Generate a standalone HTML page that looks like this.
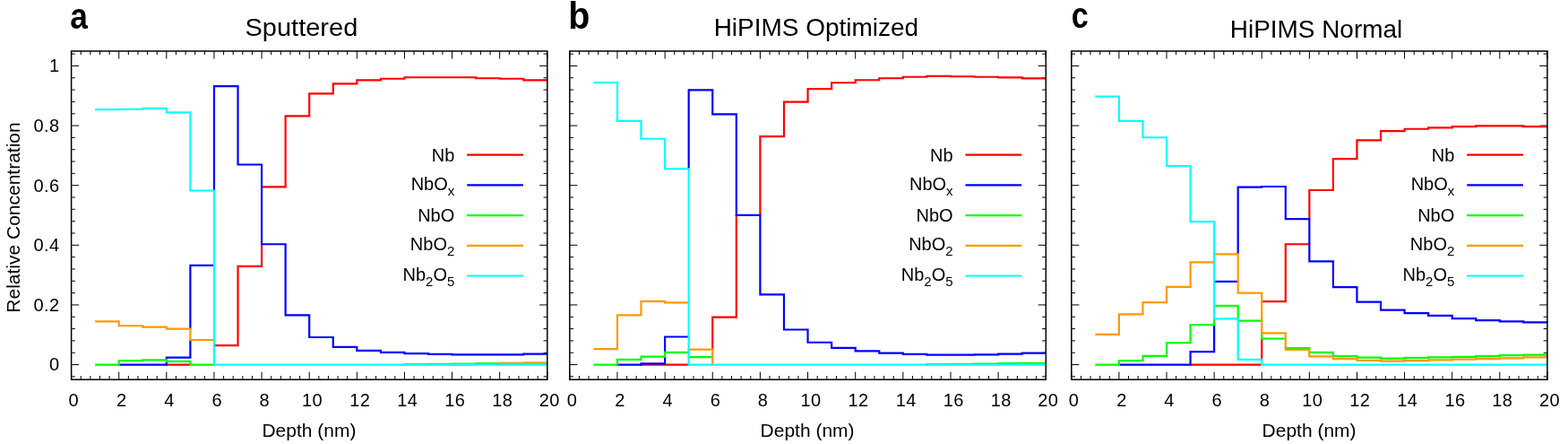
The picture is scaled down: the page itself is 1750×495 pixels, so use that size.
<!DOCTYPE html>
<html lang="en"><head><meta charset="utf-8"><title>Relative Concentration vs Depth</title>
<style>html,body{margin:0;padding:0;background:#fff;}body{width:1750px;height:495px;overflow:hidden;}svg{display:block;}text{font-family:"Liberation Sans",sans-serif;fill:#000;}.t{font-size:20px;}.ttl{font-size:28.5px;}.let{font-size:38px;font-weight:bold;}.sub{font-size:15px;}.tk{letter-spacing:0.4px;}</style></head><body>
<svg width="1750" height="495" viewBox="0 0 1750 495">
<rect width="1750" height="495" fill="#fff"/>
<g>
<path d="M79.6 423.2v-8.6M79.6 57v8.6M90.22 423.2v-4.2M90.22 57v4.2M100.85 423.2v-4.2M100.85 57v4.2M111.47 423.2v-4.2M111.47 57v4.2M122.1 423.2v-4.2M122.1 57v4.2M132.72 423.2v-8.6M132.72 57v8.6M143.34 423.2v-4.2M143.34 57v4.2M153.97 423.2v-4.2M153.97 57v4.2M164.59 423.2v-4.2M164.59 57v4.2M175.22 423.2v-4.2M175.22 57v4.2M185.84 423.2v-8.6M185.84 57v8.6M196.46 423.2v-4.2M196.46 57v4.2M207.09 423.2v-4.2M207.09 57v4.2M217.71 423.2v-4.2M217.71 57v4.2M228.34 423.2v-4.2M228.34 57v4.2M238.96 423.2v-8.6M238.96 57v8.6M249.58 423.2v-4.2M249.58 57v4.2M260.21 423.2v-4.2M260.21 57v4.2M270.83 423.2v-4.2M270.83 57v4.2M281.46 423.2v-4.2M281.46 57v4.2M292.08 423.2v-8.6M292.08 57v8.6M302.7 423.2v-4.2M302.7 57v4.2M313.33 423.2v-4.2M313.33 57v4.2M323.95 423.2v-4.2M323.95 57v4.2M334.58 423.2v-4.2M334.58 57v4.2M345.2 423.2v-8.6M345.2 57v8.6M355.82 423.2v-4.2M355.82 57v4.2M366.45 423.2v-4.2M366.45 57v4.2M377.07 423.2v-4.2M377.07 57v4.2M387.7 423.2v-4.2M387.7 57v4.2M398.32 423.2v-8.6M398.32 57v8.6M408.94 423.2v-4.2M408.94 57v4.2M419.57 423.2v-4.2M419.57 57v4.2M430.19 423.2v-4.2M430.19 57v4.2M440.82 423.2v-4.2M440.82 57v4.2M451.44 423.2v-8.6M451.44 57v8.6M462.06 423.2v-4.2M462.06 57v4.2M472.69 423.2v-4.2M472.69 57v4.2M483.31 423.2v-4.2M483.31 57v4.2M493.94 423.2v-4.2M493.94 57v4.2M504.56 423.2v-8.6M504.56 57v8.6M515.18 423.2v-4.2M515.18 57v4.2M525.81 423.2v-4.2M525.81 57v4.2M536.43 423.2v-4.2M536.43 57v4.2M547.06 423.2v-4.2M547.06 57v4.2M557.68 423.2v-8.6M557.68 57v8.6M568.3 423.2v-4.2M568.3 57v4.2M578.93 423.2v-4.2M578.93 57v4.2M589.55 423.2v-4.2M589.55 57v4.2M600.18 423.2v-4.2M600.18 57v4.2M610.8 423.2v-8.6M610.8 57v8.6M79.6 419.87h4.2M610.8 419.87h-4.2M79.6 406.55h8.6M610.8 406.55h-8.6M79.6 393.23h4.2M610.8 393.23h-4.2M79.6 379.9h4.2M610.8 379.9h-4.2M79.6 366.58h4.2M610.8 366.58h-4.2M79.6 353.25h4.2M610.8 353.25h-4.2M79.6 339.93h8.6M610.8 339.93h-8.6M79.6 326.61h4.2M610.8 326.61h-4.2M79.6 313.28h4.2M610.8 313.28h-4.2M79.6 299.96h4.2M610.8 299.96h-4.2M79.6 286.63h4.2M610.8 286.63h-4.2M79.6 273.31h8.6M610.8 273.31h-8.6M79.6 259.99h4.2M610.8 259.99h-4.2M79.6 246.66h4.2M610.8 246.66h-4.2M79.6 233.34h4.2M610.8 233.34h-4.2M79.6 220.01h4.2M610.8 220.01h-4.2M79.6 206.69h8.6M610.8 206.69h-8.6M79.6 193.37h4.2M610.8 193.37h-4.2M79.6 180.04h4.2M610.8 180.04h-4.2M79.6 166.72h4.2M610.8 166.72h-4.2M79.6 153.39h4.2M610.8 153.39h-4.2M79.6 140.07h8.6M610.8 140.07h-8.6M79.6 126.75h4.2M610.8 126.75h-4.2M79.6 113.42h4.2M610.8 113.42h-4.2M79.6 100.1h4.2M610.8 100.1h-4.2M79.6 86.77h4.2M610.8 86.77h-4.2M79.6 73.45h8.6M610.8 73.45h-8.6M79.6 60.13h4.2M610.8 60.13h-4.2" stroke="#000" stroke-width="1" fill="none"/>
<clipPath id="clip0"><rect x="78.85" y="56.25" width="532.35" height="367.7"/></clipPath>
<g clip-path="url(#clip0)">
<path d="M185.84 406.55H212.4M238.96 385.03H265.52M265.52 296.83V385.03M265.52 296.83H292.08M292.08 273.34V296.83M292.08 208.36H318.64M318.64 129.41V208.36M318.64 129.41H345.2M345.2 104.43V129.41M345.2 104.43H371.76M371.76 93.44V104.43M371.76 93.44H398.32M398.32 89.44V93.44M398.32 89.44H424.88M424.88 87.77V89.44M424.88 87.77H451.44M451.44 86.24V87.77M451.44 86.24H478M478 86.24H504.56M504.56 86.24H531.12M531.12 86.24V87.24M531.12 87.24H557.68M557.68 87.24V87.77M557.68 87.77H584.24M584.24 87.77V89.44M584.24 89.44H610.8" stroke="#ff0000" stroke-width="2.2" fill="none" stroke-linecap="square"/>
<path d="M132.72 406.55H159.28M159.28 406.55H185.84M185.84 398.56V400.22M185.84 403.99V406.55M185.84 398.56H212.4M212.4 295.83V365.61M212.4 380.1V398.56M212.4 295.83H238.96M238.96 96.1V211.42M238.96 96.1H265.52M265.52 96.1V183.51M265.52 183.51H292.08M292.08 183.51V272.24M292.08 272.24H318.64M318.64 272.24V351.42M318.64 351.42H345.2M345.2 351.42V376M345.2 376H371.76M371.76 376V386.8M371.76 386.8H398.32M398.32 386.8V390.79M398.32 390.79H424.88M424.88 390.79V392.79M424.88 392.79H451.44M451.44 392.79V394.06M451.44 394.06H478M478 394.06V394.89M478 394.89H504.56M504.56 394.89V395.32M504.56 395.32H531.12M531.12 395.32H557.68M557.68 395.32H584.24M584.24 394.56V395.32M584.24 394.56H610.8" stroke="#0000ff" stroke-width="2.2" fill="none" stroke-linecap="square"/>
<path d="M107.26 406.55H132.72M132.72 402.09V406.55M132.72 402.09H159.28M159.28 401.32V402.09M159.28 401.32H185.84M185.84 401.32V402.89M185.84 402.89H212.4M212.4 402.89V406.55M212.4 406.55H238.96M451.44 406.22V406.55M451.44 406.22H478M478 405.88V406.22M478 405.88H504.56M504.56 405.55V405.88M504.56 405.55H531.12M531.12 405.22V405.55M531.12 405.22H557.68M557.68 404.88V405.22M557.68 404.88H584.24M584.24 404.55V404.88M584.24 404.55H610.8" stroke="#00ff00" stroke-width="2.2" fill="none" stroke-linecap="square"/>
<path d="M107.26 358.45H132.72M132.72 358.45V363.25M132.72 363.25H159.28M159.28 363.25V364.71M159.28 364.71H185.84M185.84 364.71V366.71M185.84 366.71H212.4M212.4 366.71V379M212.4 379H238.96M504.56 406.22V406.55M504.56 406.22H531.12M531.12 405.88V406.22M531.12 405.88H557.68M557.68 405.22V405.88M557.68 405.22H584.24M584.24 404.88V405.22M584.24 404.88H610.8" stroke="#ff9900" stroke-width="2.2" fill="none" stroke-linecap="square"/>
<path d="M107.26 122.08H132.72M132.72 121.75V122.08M132.72 121.75H159.28M159.28 120.75V121.75M159.28 120.75H185.84M185.84 120.75V125.41M185.84 125.41H212.4M212.4 125.41V212.52M212.4 212.52H238.96M238.96 212.52V406.55M238.96 406.55H265.52M265.52 406.55H292.08M292.08 406.55H318.64M318.64 406.55H345.2M345.2 406.55H371.76M371.76 406.55H398.32M398.32 406.55H424.88M424.88 406.55H451.44M451.44 406.55H478M478 406.55H504.56M504.56 406.55H531.12M531.12 406.55H557.68M557.68 406.55H584.24M584.24 406.55H610.8" stroke="#00ffff" stroke-width="2.2" fill="none" stroke-linecap="square"/>
</g>
<rect x="79.6" y="57" width="531.2" height="366.2" fill="none" stroke="#000" stroke-width="1.5"/>
<path d="M521.2 172.7H583.9" stroke="#ff0000" stroke-width="2.2"/>
<text class="t" transform="translate(507.3 180) scale(1.0 1)" text-anchor="end">Nb</text>
<path d="M521.2 206.4H583.9" stroke="#0000ff" stroke-width="2.2"/>
<text class="t" transform="translate(507.3 211.7) scale(1.0 1)" text-anchor="end">NbO<tspan class="sub" dy="6">x</tspan></text>
<path d="M521.2 240.1H583.9" stroke="#00ff00" stroke-width="2.2"/>
<text class="t" transform="translate(507.3 247.4) scale(1.0 1)" text-anchor="end">NbO</text>
<path d="M521.2 273.8H583.9" stroke="#ff9900" stroke-width="2.2"/>
<text class="t" transform="translate(507.3 279.1) scale(1.0 1)" text-anchor="end">NbO<tspan class="sub" dy="6">2</tspan></text>
<path d="M521.2 307.5H583.9" stroke="#00ffff" stroke-width="2.2"/>
<text class="t" transform="translate(507.3 312.8) scale(1.0 1)" text-anchor="end">Nb<tspan class="sub" dy="6">2</tspan><tspan dy="-6">O</tspan><tspan class="sub" dy="6">5</tspan></text>
<text class="t tk" x="82.3" y="452.8" text-anchor="middle">0</text>
<text class="t tk" x="135.72" y="452.8" text-anchor="middle">2</text>
<text class="t tk" x="188.94" y="452.8" text-anchor="middle">4</text>
<text class="t tk" x="242.16" y="452.8" text-anchor="middle">6</text>
<text class="t tk" x="295.28" y="452.8" text-anchor="middle">8</text>
<text class="t tk" x="348.6" y="452.8" text-anchor="middle">10</text>
<text class="t tk" x="401.72" y="452.8" text-anchor="middle">12</text>
<text class="t tk" x="454.74" y="452.8" text-anchor="middle">14</text>
<text class="t tk" x="507.86" y="452.8" text-anchor="middle">16</text>
<text class="t tk" x="560.68" y="452.8" text-anchor="middle">18</text>
<text class="t tk" x="613.3" y="452.8" text-anchor="middle">20</text>
<text class="t" transform="translate(344.9 486.6) scale(1.05 1)" text-anchor="middle">Depth (nm)</text>
<text class="ttl" transform="translate(336.4 39.5) scale(1.018 1)" text-anchor="middle">Sputtered</text>
<text class="let" style="font-size:41.3px" transform="translate(78.2 32.4) scale(0.855 1)">a</text>
</g>
<g>
<path d="M635.8 423.2v-8.6M635.8 57v8.6M646.43 423.2v-4.2M646.43 57v4.2M657.06 423.2v-4.2M657.06 57v4.2M667.69 423.2v-4.2M667.69 57v4.2M678.32 423.2v-4.2M678.32 57v4.2M688.95 423.2v-8.6M688.95 57v8.6M699.58 423.2v-4.2M699.58 57v4.2M710.21 423.2v-4.2M710.21 57v4.2M720.84 423.2v-4.2M720.84 57v4.2M731.47 423.2v-4.2M731.47 57v4.2M742.1 423.2v-8.6M742.1 57v8.6M752.73 423.2v-4.2M752.73 57v4.2M763.36 423.2v-4.2M763.36 57v4.2M773.99 423.2v-4.2M773.99 57v4.2M784.62 423.2v-4.2M784.62 57v4.2M795.25 423.2v-8.6M795.25 57v8.6M805.88 423.2v-4.2M805.88 57v4.2M816.51 423.2v-4.2M816.51 57v4.2M827.14 423.2v-4.2M827.14 57v4.2M837.77 423.2v-4.2M837.77 57v4.2M848.4 423.2v-8.6M848.4 57v8.6M859.03 423.2v-4.2M859.03 57v4.2M869.66 423.2v-4.2M869.66 57v4.2M880.29 423.2v-4.2M880.29 57v4.2M890.92 423.2v-4.2M890.92 57v4.2M901.55 423.2v-8.6M901.55 57v8.6M912.18 423.2v-4.2M912.18 57v4.2M922.81 423.2v-4.2M922.81 57v4.2M933.44 423.2v-4.2M933.44 57v4.2M944.07 423.2v-4.2M944.07 57v4.2M954.7 423.2v-8.6M954.7 57v8.6M965.33 423.2v-4.2M965.33 57v4.2M975.96 423.2v-4.2M975.96 57v4.2M986.59 423.2v-4.2M986.59 57v4.2M997.22 423.2v-4.2M997.22 57v4.2M1007.85 423.2v-8.6M1007.85 57v8.6M1018.48 423.2v-4.2M1018.48 57v4.2M1029.11 423.2v-4.2M1029.11 57v4.2M1039.74 423.2v-4.2M1039.74 57v4.2M1050.37 423.2v-4.2M1050.37 57v4.2M1061 423.2v-8.6M1061 57v8.6M1071.63 423.2v-4.2M1071.63 57v4.2M1082.26 423.2v-4.2M1082.26 57v4.2M1092.89 423.2v-4.2M1092.89 57v4.2M1103.52 423.2v-4.2M1103.52 57v4.2M1114.15 423.2v-8.6M1114.15 57v8.6M1124.78 423.2v-4.2M1124.78 57v4.2M1135.41 423.2v-4.2M1135.41 57v4.2M1146.04 423.2v-4.2M1146.04 57v4.2M1156.67 423.2v-4.2M1156.67 57v4.2M1167.3 423.2v-8.6M1167.3 57v8.6M635.8 419.87h4.2M1167.3 419.87h-4.2M635.8 406.55h8.6M1167.3 406.55h-8.6M635.8 393.23h4.2M1167.3 393.23h-4.2M635.8 379.9h4.2M1167.3 379.9h-4.2M635.8 366.58h4.2M1167.3 366.58h-4.2M635.8 353.25h4.2M1167.3 353.25h-4.2M635.8 339.93h8.6M1167.3 339.93h-8.6M635.8 326.61h4.2M1167.3 326.61h-4.2M635.8 313.28h4.2M1167.3 313.28h-4.2M635.8 299.96h4.2M1167.3 299.96h-4.2M635.8 286.63h4.2M1167.3 286.63h-4.2M635.8 273.31h8.6M1167.3 273.31h-8.6M635.8 259.99h4.2M1167.3 259.99h-4.2M635.8 246.66h4.2M1167.3 246.66h-4.2M635.8 233.34h4.2M1167.3 233.34h-4.2M635.8 220.01h4.2M1167.3 220.01h-4.2M635.8 206.69h8.6M1167.3 206.69h-8.6M635.8 193.37h4.2M1167.3 193.37h-4.2M635.8 180.04h4.2M1167.3 180.04h-4.2M635.8 166.72h4.2M1167.3 166.72h-4.2M635.8 153.39h4.2M1167.3 153.39h-4.2M635.8 140.07h8.6M1167.3 140.07h-8.6M635.8 126.75h4.2M1167.3 126.75h-4.2M635.8 113.42h4.2M1167.3 113.42h-4.2M635.8 100.1h4.2M1167.3 100.1h-4.2M635.8 86.77h4.2M1167.3 86.77h-4.2M635.8 73.45h8.6M1167.3 73.45h-8.6M635.8 60.13h4.2M1167.3 60.13h-4.2" stroke="#000" stroke-width="1" fill="none"/>
<clipPath id="clip1"><rect x="635.05" y="56.25" width="532.65" height="367.7"/></clipPath>
<g clip-path="url(#clip1)">
<path d="M715.52 406.55H742.1M742.1 406.55H768.67M795.25 353.69V388.46M795.25 353.69H821.82M821.82 240V353.69M848.4 152.19V238.8M848.4 152.19H874.97M874.97 113.59V152.19M874.97 113.59H901.55M901.55 99.1V113.59M901.55 99.1H928.12M928.12 92.27V99.1M928.12 92.27H954.7M954.7 89.24V92.27M954.7 89.24H981.27M981.27 87.24V89.24M981.27 87.24H1007.85M1007.85 85.77V87.24M1007.85 85.77H1034.42M1034.42 84.78V85.77M1034.42 84.78H1061M1061 84.78V85.24M1061 85.24H1087.57M1087.57 85.24V85.77M1087.57 85.77H1114.15M1114.15 85.77V86.44M1114.15 86.44H1140.72M1140.72 86.44V87.44M1140.72 87.44H1167.3M1167.3 87.44V88.44" stroke="#ff0000" stroke-width="2.2" fill="none" stroke-linecap="square"/>
<path d="M688.95 406.55H715.52M715.52 405.35V406.55M715.52 405.35H742.1M742.1 375.51V391.69M742.1 398.66V405.35M742.1 375.51H768.67M768.67 100.3V187.14M768.67 100.3H795.25M795.25 100.3V127.41M795.25 127.41H821.82M821.82 127.41V239.9M821.82 239.9H848.4M848.4 239.9V328.34M848.4 328.34H874.97M874.97 328.34V367.48M874.97 367.48H901.55M901.55 367.48V381.77M901.55 381.77H928.12M928.12 381.77V387.8M928.12 387.8H954.7M954.7 387.8V391.29M954.7 391.29H981.27M981.27 391.29V393.56M981.27 393.56H1007.85M1007.85 393.56V394.89M1007.85 394.89H1034.42M1034.42 394.89V395.56M1034.42 395.56H1061M1061 395.56H1087.57M1087.57 395.32V395.56M1087.57 395.32H1114.15M1114.15 394.56V395.32M1114.15 394.56H1140.72M1140.72 393.56V394.56M1140.72 393.56H1167.3" stroke="#0000ff" stroke-width="2.2" fill="none" stroke-linecap="square"/>
<path d="M663.48 406.55H688.95M688.95 400.82V406.55M688.95 400.82H715.52M715.52 397.56V400.82M715.52 397.56H742.1M742.1 392.79V397.56M742.1 392.79H768.67M768.67 398.06H795.25M1034.42 406.22V406.55M1034.42 406.22H1061M1061 405.88V406.22M1061 405.88H1087.57M1087.57 405.55V405.88M1087.57 405.55H1114.15M1114.15 405.22V405.55M1114.15 405.22H1140.72M1140.72 404.88V405.22M1140.72 404.88H1167.3" stroke="#00ff00" stroke-width="2.2" fill="none" stroke-linecap="square"/>
<path d="M663.48 389.03H688.95M688.95 351.42V389.03M688.95 351.42H715.52M715.52 335.87V351.42M715.52 335.87H742.1M742.1 335.87V337.37M742.1 337.37H768.67M768.67 389.56H795.25M795.25 389.56V406.55" stroke="#ff9900" stroke-width="2.2" fill="none" stroke-linecap="square"/>
<path d="M663.48 92H688.95M688.95 92V134.91M688.95 134.91H715.52M715.52 134.91V154.73M715.52 154.73H742.1M742.1 154.73V188.24M742.1 188.24H768.67M768.67 188.24V406.55M768.67 406.55H795.25M795.25 406.55H821.82M821.82 406.55H848.4M848.4 406.55H874.97M874.97 406.55H901.55M901.55 406.55H928.12M928.12 406.55H954.7M954.7 406.55H981.27M981.27 406.55H1007.85M1007.85 406.55H1034.42M1034.42 406.55H1061M1061 406.55H1087.57M1087.57 406.55H1114.15M1114.15 406.55H1140.72M1140.72 406.55H1167.3" stroke="#00ffff" stroke-width="2.2" fill="none" stroke-linecap="square"/>
</g>
<rect x="635.8" y="57" width="531.5" height="366.2" fill="none" stroke="#000" stroke-width="1.5"/>
<path d="M1077.5 172.7H1140.2" stroke="#ff0000" stroke-width="2.2"/>
<text class="t" transform="translate(1063.6 180) scale(1.0 1)" text-anchor="end">Nb</text>
<path d="M1077.5 206.4H1140.2" stroke="#0000ff" stroke-width="2.2"/>
<text class="t" transform="translate(1063.6 211.7) scale(1.0 1)" text-anchor="end">NbO<tspan class="sub" dy="6">x</tspan></text>
<path d="M1077.5 240.1H1140.2" stroke="#00ff00" stroke-width="2.2"/>
<text class="t" transform="translate(1063.6 247.4) scale(1.0 1)" text-anchor="end">NbO</text>
<path d="M1077.5 273.8H1140.2" stroke="#ff9900" stroke-width="2.2"/>
<text class="t" transform="translate(1063.6 279.1) scale(1.0 1)" text-anchor="end">NbO<tspan class="sub" dy="6">2</tspan></text>
<path d="M1077.5 307.5H1140.2" stroke="#00ffff" stroke-width="2.2"/>
<text class="t" transform="translate(1063.6 312.8) scale(1.0 1)" text-anchor="end">Nb<tspan class="sub" dy="6">2</tspan><tspan dy="-6">O</tspan><tspan class="sub" dy="6">5</tspan></text>
<text class="t tk" x="638.5" y="452.8" text-anchor="middle">0</text>
<text class="t tk" x="691.95" y="452.8" text-anchor="middle">2</text>
<text class="t tk" x="745.2" y="452.8" text-anchor="middle">4</text>
<text class="t tk" x="798.45" y="452.8" text-anchor="middle">6</text>
<text class="t tk" x="851.6" y="452.8" text-anchor="middle">8</text>
<text class="t tk" x="904.95" y="452.8" text-anchor="middle">10</text>
<text class="t tk" x="958.1" y="452.8" text-anchor="middle">12</text>
<text class="t tk" x="1011.15" y="452.8" text-anchor="middle">14</text>
<text class="t tk" x="1064.3" y="452.8" text-anchor="middle">16</text>
<text class="t tk" x="1117.15" y="452.8" text-anchor="middle">18</text>
<text class="t tk" x="1169.8" y="452.8" text-anchor="middle">20</text>
<text class="t" transform="translate(901.1 486.6) scale(1.05 1)" text-anchor="middle">Depth (nm)</text>
<text class="ttl" transform="translate(910.9 39.5) scale(0.982 1)" text-anchor="middle">HiPIMS Optimized</text>
<text class="let" style="font-size:42px" transform="translate(634.3 31.5) scale(0.94 1)">b</text>
</g>
<g>
<path d="M1195.8 423.2v-8.6M1195.8 57v8.6M1206.42 423.2v-4.2M1206.42 57v4.2M1217.04 423.2v-4.2M1217.04 57v4.2M1227.67 423.2v-4.2M1227.67 57v4.2M1238.29 423.2v-4.2M1238.29 57v4.2M1248.91 423.2v-8.6M1248.91 57v8.6M1259.53 423.2v-4.2M1259.53 57v4.2M1270.15 423.2v-4.2M1270.15 57v4.2M1280.78 423.2v-4.2M1280.78 57v4.2M1291.4 423.2v-4.2M1291.4 57v4.2M1302.02 423.2v-8.6M1302.02 57v8.6M1312.64 423.2v-4.2M1312.64 57v4.2M1323.26 423.2v-4.2M1323.26 57v4.2M1333.89 423.2v-4.2M1333.89 57v4.2M1344.51 423.2v-4.2M1344.51 57v4.2M1355.13 423.2v-8.6M1355.13 57v8.6M1365.75 423.2v-4.2M1365.75 57v4.2M1376.37 423.2v-4.2M1376.37 57v4.2M1387 423.2v-4.2M1387 57v4.2M1397.62 423.2v-4.2M1397.62 57v4.2M1408.24 423.2v-8.6M1408.24 57v8.6M1418.86 423.2v-4.2M1418.86 57v4.2M1429.48 423.2v-4.2M1429.48 57v4.2M1440.11 423.2v-4.2M1440.11 57v4.2M1450.73 423.2v-4.2M1450.73 57v4.2M1461.35 423.2v-8.6M1461.35 57v8.6M1471.97 423.2v-4.2M1471.97 57v4.2M1482.59 423.2v-4.2M1482.59 57v4.2M1493.22 423.2v-4.2M1493.22 57v4.2M1503.84 423.2v-4.2M1503.84 57v4.2M1514.46 423.2v-8.6M1514.46 57v8.6M1525.08 423.2v-4.2M1525.08 57v4.2M1535.7 423.2v-4.2M1535.7 57v4.2M1546.33 423.2v-4.2M1546.33 57v4.2M1556.95 423.2v-4.2M1556.95 57v4.2M1567.57 423.2v-8.6M1567.57 57v8.6M1578.19 423.2v-4.2M1578.19 57v4.2M1588.81 423.2v-4.2M1588.81 57v4.2M1599.44 423.2v-4.2M1599.44 57v4.2M1610.06 423.2v-4.2M1610.06 57v4.2M1620.68 423.2v-8.6M1620.68 57v8.6M1631.3 423.2v-4.2M1631.3 57v4.2M1641.92 423.2v-4.2M1641.92 57v4.2M1652.55 423.2v-4.2M1652.55 57v4.2M1663.17 423.2v-4.2M1663.17 57v4.2M1673.79 423.2v-8.6M1673.79 57v8.6M1684.41 423.2v-4.2M1684.41 57v4.2M1695.03 423.2v-4.2M1695.03 57v4.2M1705.66 423.2v-4.2M1705.66 57v4.2M1716.28 423.2v-4.2M1716.28 57v4.2M1726.9 423.2v-8.6M1726.9 57v8.6M1195.8 419.87h4.2M1726.9 419.87h-4.2M1195.8 406.55h8.6M1726.9 406.55h-8.6M1195.8 393.23h4.2M1726.9 393.23h-4.2M1195.8 379.9h4.2M1726.9 379.9h-4.2M1195.8 366.58h4.2M1726.9 366.58h-4.2M1195.8 353.25h4.2M1726.9 353.25h-4.2M1195.8 339.93h8.6M1726.9 339.93h-8.6M1195.8 326.61h4.2M1726.9 326.61h-4.2M1195.8 313.28h4.2M1726.9 313.28h-4.2M1195.8 299.96h4.2M1726.9 299.96h-4.2M1195.8 286.63h4.2M1726.9 286.63h-4.2M1195.8 273.31h8.6M1726.9 273.31h-8.6M1195.8 259.99h4.2M1726.9 259.99h-4.2M1195.8 246.66h4.2M1726.9 246.66h-4.2M1195.8 233.34h4.2M1726.9 233.34h-4.2M1195.8 220.01h4.2M1726.9 220.01h-4.2M1195.8 206.69h8.6M1726.9 206.69h-8.6M1195.8 193.37h4.2M1726.9 193.37h-4.2M1195.8 180.04h4.2M1726.9 180.04h-4.2M1195.8 166.72h4.2M1726.9 166.72h-4.2M1195.8 153.39h4.2M1726.9 153.39h-4.2M1195.8 140.07h8.6M1726.9 140.07h-8.6M1195.8 126.75h4.2M1726.9 126.75h-4.2M1195.8 113.42h4.2M1726.9 113.42h-4.2M1195.8 100.1h4.2M1726.9 100.1h-4.2M1195.8 86.77h4.2M1726.9 86.77h-4.2M1195.8 73.45h8.6M1726.9 73.45h-8.6M1195.8 60.13h4.2M1726.9 60.13h-4.2" stroke="#000" stroke-width="1" fill="none"/>
<clipPath id="clip2"><rect x="1195.05" y="56.25" width="532.25" height="367.7"/></clipPath>
<g clip-path="url(#clip2)">
<path d="M1328.58 406.55H1355.13M1355.13 406.55H1381.68M1381.68 406.55H1408.24M1408.24 378.6V399.72M1408.24 336.13H1434.8M1434.8 272.24V336.13M1434.8 272.24H1461.35M1461.35 212.02V243.06M1461.35 212.02H1487.9M1487.9 177.04V212.02M1487.9 177.04H1514.46M1514.46 156.46V177.04M1514.46 156.46H1541.02M1541.02 146.2V156.46M1541.02 146.2H1567.57M1567.57 143.73V146.2M1567.57 143.73H1594.12M1594.12 142.4V143.73M1594.12 142.4H1620.68M1620.68 141.17V142.4M1620.68 141.17H1647.24M1647.24 140.4V141.17M1647.24 140.4H1673.79M1673.79 140.4H1700.35M1700.35 140.4V141.17M1700.35 141.17H1726.9" stroke="#ff0000" stroke-width="2.2" fill="none" stroke-linecap="square"/>
<path d="M1248.91 406.55H1275.46M1275.46 406.55H1302.02M1302.02 406.55H1328.58M1328.58 392.06V406.55M1328.58 392.06H1355.13M1355.13 363.35V392.06M1355.13 313.78H1381.68M1381.68 208.56V282.2M1381.68 208.56H1408.24M1408.24 208.02V208.56M1408.24 208.02H1434.8M1434.8 208.02V244.16M1434.8 244.16H1461.35M1461.35 244.16V291.3M1461.35 291.3H1487.9M1487.9 291.3V320.08M1487.9 320.08H1514.46M1514.46 320.08V336.6M1514.46 336.6H1541.02M1541.02 336.6V345.66M1541.02 345.66H1567.57M1567.57 345.66V349.16M1567.57 349.16H1594.12M1594.12 349.16V351.92M1594.12 351.92H1620.68M1620.68 351.92V355.19M1620.68 355.19H1647.24M1647.24 355.19V357.18M1647.24 357.18H1673.79M1673.79 357.18V358.45M1673.79 358.45H1700.35M1700.35 358.45V359.45M1700.35 359.45H1726.9" stroke="#0000ff" stroke-width="2.2" fill="none" stroke-linecap="square"/>
<path d="M1223.45 406.55H1248.91M1248.91 402.09V406.55M1248.91 402.09H1275.46M1275.46 396.89V402.09M1275.46 396.89H1302.02M1302.02 382.27V396.89M1302.02 382.27H1328.58M1328.58 362.25V382.27M1328.58 362.25H1355.13M1355.13 356.52V362.25M1355.13 340.93H1381.68M1381.68 340.93V354.32M1381.68 357.68H1408.24M1408.24 372.57V377.5M1408.24 377.5H1434.8M1434.8 388.03H1461.35M1461.35 388.03V388.7M1461.35 392.79H1487.9M1487.9 392.79V397.06M1487.9 397.06H1514.46M1514.46 397.06V398.56M1514.46 398.56H1541.02M1541.02 398.56V399.55M1541.02 399.55H1567.57M1567.57 398.82V399.55M1567.57 398.82H1594.12M1594.12 398.32V398.82M1594.12 398.32H1620.68M1620.68 397.89V398.32M1620.68 397.89H1647.24M1647.24 397.06V397.89M1647.24 397.06H1673.79M1673.79 396.22V397.06M1673.79 396.22H1700.35M1700.35 395.56V396.22M1700.35 395.56H1726.9M1726.9 394.56V395.56" stroke="#00ff00" stroke-width="2.2" fill="none" stroke-linecap="square"/>
<path d="M1223.45 372.97H1248.91M1248.91 350.42V372.97M1248.91 350.42H1275.46M1275.46 337.1V350.42M1275.46 337.1H1302.02M1302.02 319.81V337.1M1302.02 319.81H1328.58M1328.58 292.3V319.81M1328.58 292.3H1355.13M1355.13 283.3H1381.68M1381.68 283.3V326.61M1381.68 326.61H1408.24M1408.24 326.61V371.47M1408.24 371.47H1434.8M1434.8 371.47V389.8M1434.8 389.8H1461.35M1461.35 389.8V397.32M1461.35 397.32H1487.9M1487.9 397.32V400.09M1487.9 400.09H1514.46M1514.46 400.09V401.82M1514.46 401.82H1541.02M1541.02 401.82V402.55M1541.02 402.55H1567.57M1567.57 402.09V402.55M1567.57 402.09H1594.12M1594.12 401.32V402.09M1594.12 401.32H1620.68M1620.68 400.55V401.32M1620.68 400.55H1647.24M1647.24 400.09V400.55M1647.24 400.09H1673.79M1673.79 399.32V400.09M1673.79 399.32H1700.35M1700.35 398.32V399.32M1700.35 398.32H1726.9M1726.9 397.56V398.32" stroke="#ff9900" stroke-width="2.2" fill="none" stroke-linecap="square"/>
<path d="M1223.45 107.56H1248.91M1248.91 107.56V134.91M1248.91 134.91H1275.46M1275.46 134.91V153.23M1275.46 153.23H1302.02M1302.02 153.23V185.01M1302.02 185.01H1328.58M1328.58 185.01V247.16M1328.58 247.16H1355.13M1355.13 247.16V355.42M1355.13 355.42H1381.68M1381.68 355.42V400.82M1381.68 400.82H1408.24M1408.24 400.82V406.55M1408.24 406.55H1434.8M1434.8 406.55H1461.35M1461.35 406.55H1487.9M1487.9 406.55H1514.46M1514.46 406.55H1541.02M1541.02 406.55H1567.57M1567.57 406.55H1594.12M1594.12 406.55H1620.68M1620.68 406.55H1647.24M1647.24 406.55H1673.79M1673.79 406.55H1700.35M1700.35 406.55H1726.9" stroke="#00ffff" stroke-width="2.2" fill="none" stroke-linecap="square"/>
</g>
<rect x="1195.8" y="57" width="531.1" height="366.2" fill="none" stroke="#000" stroke-width="1.5"/>
<path d="M1637.2 172.7H1699.9" stroke="#ff0000" stroke-width="2.2"/>
<text class="t" transform="translate(1623.3 180) scale(1.0 1)" text-anchor="end">Nb</text>
<path d="M1637.2 206.4H1699.9" stroke="#0000ff" stroke-width="2.2"/>
<text class="t" transform="translate(1623.3 211.7) scale(1.0 1)" text-anchor="end">NbO<tspan class="sub" dy="6">x</tspan></text>
<path d="M1637.2 240.1H1699.9" stroke="#00ff00" stroke-width="2.2"/>
<text class="t" transform="translate(1623.3 247.4) scale(1.0 1)" text-anchor="end">NbO</text>
<path d="M1637.2 273.8H1699.9" stroke="#ff9900" stroke-width="2.2"/>
<text class="t" transform="translate(1623.3 279.1) scale(1.0 1)" text-anchor="end">NbO<tspan class="sub" dy="6">2</tspan></text>
<path d="M1637.2 307.5H1699.9" stroke="#00ffff" stroke-width="2.2"/>
<text class="t" transform="translate(1623.3 312.8) scale(1.0 1)" text-anchor="end">Nb<tspan class="sub" dy="6">2</tspan><tspan dy="-6">O</tspan><tspan class="sub" dy="6">5</tspan></text>
<text class="t tk" x="1198.5" y="452.8" text-anchor="middle">0</text>
<text class="t tk" x="1251.91" y="452.8" text-anchor="middle">2</text>
<text class="t tk" x="1305.12" y="452.8" text-anchor="middle">4</text>
<text class="t tk" x="1358.33" y="452.8" text-anchor="middle">6</text>
<text class="t tk" x="1411.44" y="452.8" text-anchor="middle">8</text>
<text class="t tk" x="1464.75" y="452.8" text-anchor="middle">10</text>
<text class="t tk" x="1517.86" y="452.8" text-anchor="middle">12</text>
<text class="t tk" x="1570.87" y="452.8" text-anchor="middle">14</text>
<text class="t tk" x="1623.98" y="452.8" text-anchor="middle">16</text>
<text class="t tk" x="1676.79" y="452.8" text-anchor="middle">18</text>
<text class="t tk" x="1729.4" y="452.8" text-anchor="middle">20</text>
<text class="t" transform="translate(1461.1 486.6) scale(1.05 1)" text-anchor="middle">Depth (nm)</text>
<text class="ttl" transform="translate(1469 41.5) scale(0.98 1)" text-anchor="middle">HiPIMS Normal</text>
<text class="let" style="font-size:40.7px" transform="translate(1195.7 30.8) scale(0.84 1)">c</text>
</g>
<text class="t tk" x="66.6" y="413.45" text-anchor="end">0</text>
<text class="t tk" x="66.6" y="346.83" text-anchor="end">0.2</text>
<text class="t tk" x="66.6" y="280.21" text-anchor="end">0.4</text>
<text class="t tk" x="66.6" y="213.59" text-anchor="end">0.6</text>
<text class="t tk" x="66.6" y="146.97" text-anchor="end">0.8</text>
<text class="t tk" x="66.6" y="80.35" text-anchor="end">1</text>
<text class="t" transform="translate(22.2 242.5) rotate(-90) scale(1.05 1)" text-anchor="middle">Relative Concentration</text>
</svg></body></html>
